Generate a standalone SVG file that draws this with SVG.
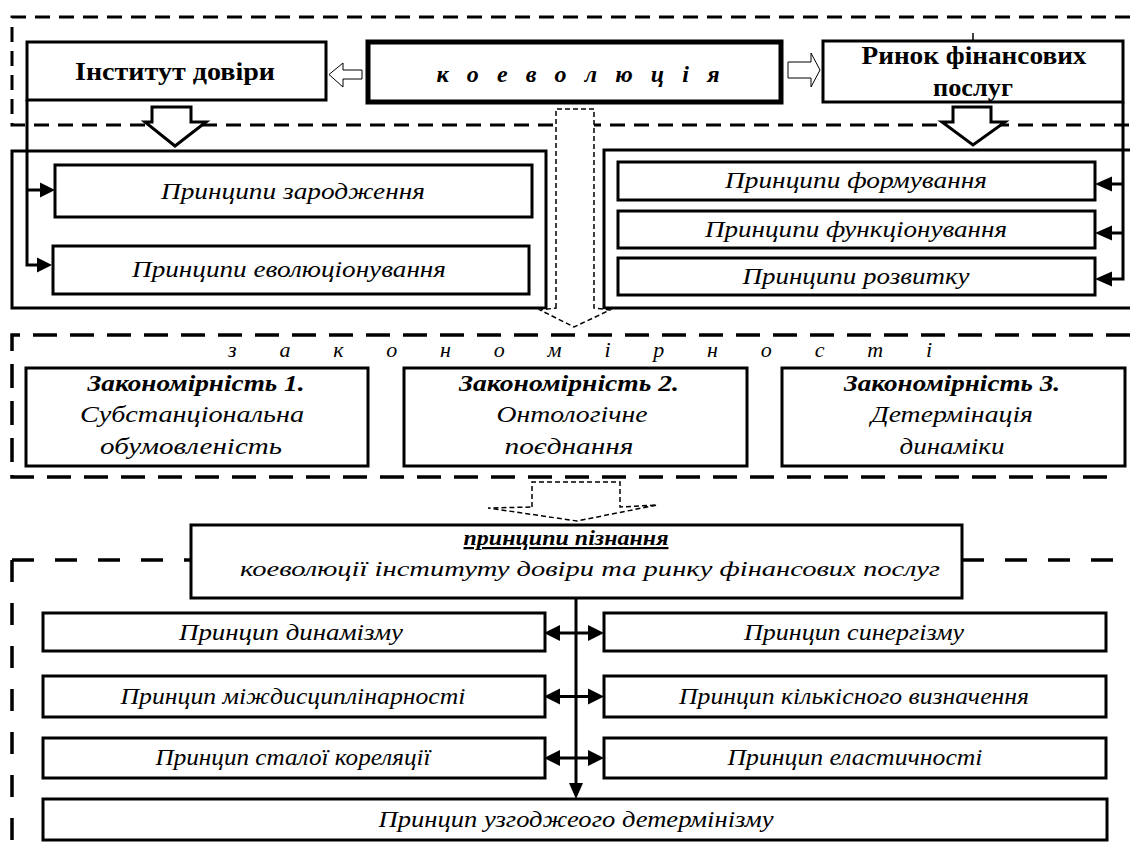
<svg xmlns="http://www.w3.org/2000/svg" width="1130" height="859" viewBox="0 0 1130 859">
  <defs>
    <style>
      .box { fill: #fff; stroke: #000; stroke-width: 3; }
      .frame { fill: none; stroke: #000; stroke-width: 3; }
      .dashA { fill: none; stroke: #000; stroke-width: 3; stroke-dasharray: 15 9; }
      .dashB { fill: none; stroke: #000; stroke-width: 3.5; stroke-dasharray: 24 13; }
      .dashC { fill: none; stroke: #000; stroke-width: 3.5; stroke-dasharray: 22 21; }
      .flow { fill: #fff; stroke: #000; stroke-width: 1.5; stroke-dasharray: 5 3; }
      .line { fill: none; stroke: #000; stroke-width: 3; }
      .head { fill: #000; stroke: none; }
      .block { fill: #fff; stroke: #000; stroke-width: 3; stroke-linejoin: miter; }
      .hollow { fill: #fff; stroke: #000; stroke-width: 1; }
      text { font-family: 'Liberation Serif', 'Tinos', 'DejaVu Serif', 'Noto Serif', 'FreeSerif', serif; fill: #000; text-anchor: middle; }
      .b { font-weight: bold; }
      .i { font-style: italic; }
      .t25 { font-size: 25px; }
      .t24 { font-size: 24px; }
      .t23 { font-size: 23px; }
      .t22 { font-size: 22px; }
    </style>
  </defs>

  <!-- section outlines -->
  <g id="sections">
    <path class="dashA" d="M1130,17 H12 V125 H1130"/>
    <path class="dashB" d="M1130,335 H12 V477 H1118"/>
    <path class="dashC" d="M12,560 H191 M962,560 H1130 M12,560 V859"/>
  </g>

  <!-- upper row -->
  <g id="institut">
    <rect class="box" x="27" y="42" width="299" height="58"/>
    <text class="b t25" x="175" y="80" textLength="200" lengthAdjust="spacingAndGlyphs">Інститут  довіри</text>
  </g>
  <g id="koevoliutsiia">
    <rect class="box" x="368" y="42" width="413" height="60" style="stroke-width:5"/>
    <text class="b i t24" x="578" y="82" textLength="283" lengthAdjust="spacing">к о е в о л ю ц і я</text>
  </g>
  <g id="rynok">
    <rect class="box" x="823" y="41" width="300" height="61"/>
    <text class="b t25" x="974" y="64" textLength="225" lengthAdjust="spacingAndGlyphs">Ринок фінансових</text>
    <text class="b t25" x="973" y="96" textLength="80" lengthAdjust="spacingAndGlyphs">послуг</text>
  </g>

  <!-- left column of principles -->
  <g id="left-group">
    <rect class="frame" x="12" y="151" width="534" height="157"/>
  </g>
  <g id="zarodzhennia">
    <rect class="box" x="55" y="165" width="477" height="52"/>
    <text class="i t24" x="293" y="199" textLength="264" lengthAdjust="spacingAndGlyphs">Принципи зародження</text>
  </g>
  <g id="evoliutsionuvannia">
    <rect class="box" x="53" y="246" width="476" height="48"/>
    <text class="i t24" x="289" y="277" textLength="314" lengthAdjust="spacingAndGlyphs">Принципи еволюціонування</text>
  </g>

  <!-- right column of principles -->
  <g id="right-group">
    <path class="frame" d="M1130,150 H604 V308 H1130"/>
  </g>
  <g id="formuvannia">
    <rect class="box" x="618" y="162" width="477" height="38"/>
    <text class="i t23" x="856" y="188" textLength="262" lengthAdjust="spacingAndGlyphs">Принципи формування</text>
  </g>
  <g id="funktsionuvannia">
    <rect class="box" x="618" y="211" width="477" height="37"/>
    <text class="i t23" x="856" y="237" textLength="302" lengthAdjust="spacingAndGlyphs">Принципи функціонування</text>
  </g>
  <g id="rozvytku">
    <rect class="box" x="618" y="258" width="477" height="37"/>
    <text class="i t23" x="856" y="284" textLength="227" lengthAdjust="spacingAndGlyphs">Принципи розвитку</text>
  </g>

  <!-- regularities -->
  <g id="zakonomirnosti-label">
    <text class="i t22" x="580" y="357" textLength="704" lengthAdjust="spacing">з а к о н о м і р н о с т і</text>
  </g>
  <g id="zakonomirnist-1">
    <rect class="box" x="26" y="368" width="342" height="98"/>
    <text class="b i t24" x="196" y="391" textLength="217" lengthAdjust="spacingAndGlyphs">Закономірність 1.</text>
    <text class="i t24" x="192" y="422" textLength="224" lengthAdjust="spacingAndGlyphs">Субстанціональна</text>
    <text class="i t24" x="191" y="454" textLength="182" lengthAdjust="spacingAndGlyphs">обумовленість</text>
  </g>
  <g id="zakonomirnist-2">
    <rect class="box" x="404" y="368" width="343" height="98"/>
    <text class="b i t24" x="569" y="391" textLength="220" lengthAdjust="spacingAndGlyphs">Закономірність 2.</text>
    <text class="i t24" x="572" y="422" textLength="151" lengthAdjust="spacingAndGlyphs">Онтологічне</text>
    <text class="i t24" x="569" y="454" textLength="129" lengthAdjust="spacingAndGlyphs">поєднання</text>
  </g>
  <g id="zakonomirnist-3">
    <rect class="box" x="782" y="368" width="343" height="98"/>
    <text class="b i t24" x="952" y="391" textLength="216" lengthAdjust="spacingAndGlyphs">Закономірність 3.</text>
    <text class="i t24" x="952" y="422" textLength="162" lengthAdjust="spacingAndGlyphs">Детермінація</text>
    <text class="i t24" x="952" y="454" textLength="105" lengthAdjust="spacingAndGlyphs">динаміки</text>
  </g>

  <!-- cognition principles -->
  <g id="pryntsypy-piznannia">
    <rect class="box" x="191" y="525" width="771" height="73"/>
    <text class="b i t22" x="566" y="545" textLength="205" lengthAdjust="spacingAndGlyphs" text-decoration="underline">принципи пізнання</text>
    <text class="i t22" x="590" y="576" textLength="700" lengthAdjust="spacingAndGlyphs">коеволюції інституту довіри та ринку фінансових послуг</text>
  </g>
  <g id="dynamizmu">
    <rect class="box" x="43" y="613" width="502" height="38"/>
    <text class="i t24" x="291" y="640" textLength="224" lengthAdjust="spacingAndGlyphs">Принцип динамізму</text>
  </g>
  <g id="synerhizmu">
    <rect class="box" x="604" y="613" width="502" height="38"/>
    <text class="i t24" x="854" y="640" textLength="220" lengthAdjust="spacingAndGlyphs">Принцип синергізму</text>
  </g>
  <g id="mizhdystsyplinarnosti">
    <rect class="box" x="43" y="676" width="502" height="41"/>
    <text class="i t24" x="293" y="704" textLength="345" lengthAdjust="spacingAndGlyphs">Принцип міждисциплінарності</text>
  </g>
  <g id="kilkisnoho-vyznachennia">
    <rect class="box" x="604" y="676" width="502" height="41"/>
    <text class="i t24" x="854" y="704" textLength="350" lengthAdjust="spacingAndGlyphs">Принцип кількісного визначення</text>
  </g>
  <g id="staloi-koreliatsii">
    <rect class="box" x="43" y="738" width="502" height="40"/>
    <text class="i t24" x="293" y="765" textLength="275" lengthAdjust="spacingAndGlyphs">Принцип сталої кореляції</text>
  </g>
  <g id="elastychnosti">
    <rect class="box" x="604" y="738" width="502" height="40"/>
    <text class="i t24" x="855" y="765" textLength="255" lengthAdjust="spacingAndGlyphs">Принцип еластичності</text>
  </g>
  <g id="uzghodzhenoho-determinizmu">
    <rect class="box" x="43" y="799" width="1064" height="41"/>
    <text class="i t24" x="576" y="827" textLength="395" lengthAdjust="spacingAndGlyphs">Принцип узгоджеого детермінізму</text>
  </g>

  <!-- connectors -->
  <g id="connectors">
    <!-- hollow arrows from the central box -->
    <path class="hollow" d="M362,70 H343 V63 L329,74.5 L343,87 V79 H362 Z"/>
    <path class="hollow" d="M788,62 H811 V53 L820,70 L811,87 V78 H788 Z"/>
    <!-- block arrows down -->
    <path class="block" d="M152,107 H191 V122 H206 L175,146 L145,122 H152 Z"/>
    <path class="block" d="M953,107 H991 V122 H1005 L973,145 L942,122 H953 Z"/>
    <line class="line" x1="973" y1="33" x2="973" y2="41" style="stroke-width:1.5"/>
    <!-- left feed -->
    <path class="line" d="M27,100 V265 H40 M27,190 H42"/>
    <path class="head" d="M40,182.5 L55,190 L40,197.5 Z"/>
    <path class="head" d="M37,257.5 L52,265 L37,272.5 Z"/>
    <!-- right feed -->
    <path class="line" d="M1123,102 V279 H1110 M1123,184 H1110 M1123,233 H1110"/>
    <path class="head" d="M1112,176.5 L1095,184 L1112,191.5 Z"/>
    <path class="head" d="M1112,225.5 L1095,233 L1112,240.5 Z"/>
    <path class="head" d="M1112,271.5 L1095,279 L1112,286.5 Z"/>
    <!-- dashed flow arrows -->
    <path class="flow" d="M556,308 V109 H594 V308 L610,310 L574,327 L540,310 Z"/>
    <path class="flow" d="M532,507 V482 H620 V507 L657,505 L577,521 L488,508 Z"/>
    <!-- trunk to the principles -->
    <path class="line" d="M576,598 V785"/>
    <path class="head" d="M569,783 L576,799 L583,783 Z"/>
    <path class="line" d="M558,633 H590 M558,696.5 H590 M558,758 H590"/>
    <path class="head" d="M560,625 L544,633 L560,641 Z M588,625 L604,633 L588,641 Z"/>
    <path class="head" d="M560,688.5 L544,696.5 L560,704.5 Z M588,688.5 L604,696.5 L588,704.5 Z"/>
    <path class="head" d="M560,750 L544,758 L560,766 Z M588,750 L604,758 L588,766 Z"/>
  </g>
</svg>
